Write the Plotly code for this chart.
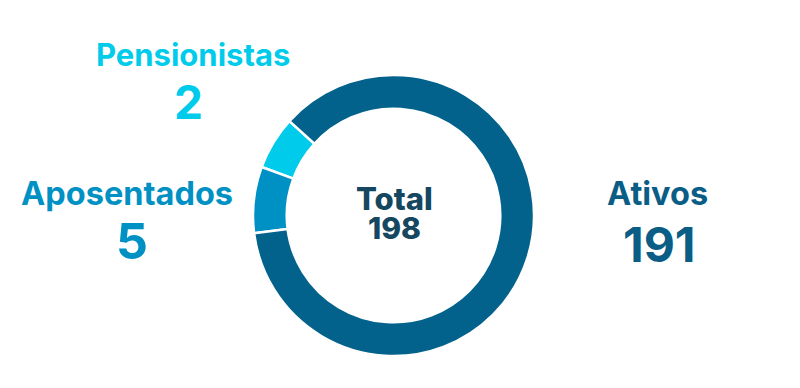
import plotly.graph_objects as go

# Data
categories = ["Pensionistas", "Aposentados", "Ativos"]
counts = [2, 5, 191]
total = 198
# Arc sizes as drawn in the reference (slices are not proportional to counts)
arc_sizes = [22, 27.5, 310.5]
colors = ["#00CBEA", "#0091C4", "#03628C"]
label_colors = ["#00CBEA", "#0091C4", "#0A5E86"]

W, H = 800, 388
FONT = "Inter"

fig = go.Figure()
fig.add_trace(go.Pie(
    labels=categories,
    values=arc_sizes,
    customdata=counts,
    hole=0.76,
    sort=False,
    direction="counterclockwise",
    rotation=-69.8,
    textinfo="none",
    hoverinfo="label",
    marker=dict(colors=colors, line=dict(color="white", width=2.5)),
    domain=dict(x=[253 / W, 534 / W], y=[1 - 356 / H, 1 - 75 / H]),
    showlegend=False,
))

def px(x, y):
    return x / W, 1 - y / H

# label positions (center x, center y in pixels), label size, number size
label_pos = {
    "Pensionistas": ((192.5, 55), (188, 102), 31, 46),
    "Aposentados": ((127, 193.5), (132, 241), 32.5, 50),
    "Ativos": ((657, 193.5), (659, 244), 32.5, 48),
}

annotations = []
for cat, cnt, col in zip(categories, counts, label_colors):
    (lx, ly), (nx, ny), lsize, nsize = label_pos[cat]
    x, y = px(lx, ly)
    annotations.append(dict(x=x, y=y, xref="paper", yref="paper", text=cat,
                            showarrow=False, xanchor="center", yanchor="middle",
                            font=dict(family=FONT, size=lsize, color=col, weight=700)))
    x, y = px(nx, ny)
    annotations.append(dict(x=x, y=y, xref="paper", yref="paper", text=str(cnt),
                            showarrow=False, xanchor="center", yanchor="middle",
                            font=dict(family=FONT, size=nsize, color=col, weight=700)))

x, y = px(394, 199)
annotations.append(dict(x=x, y=y, xref="paper", yref="paper", text="Total",
                        showarrow=False, xanchor="center", yanchor="middle",
                        font=dict(family=FONT, size=31, color="#154760", weight=800)))
x, y = px(394, 228)
annotations.append(dict(x=x, y=y, xref="paper", yref="paper", text=str(total),
                        showarrow=False, xanchor="center", yanchor="middle",
                        font=dict(family=FONT, size=30, color="#154760", weight=800)))

fig.update_layout(
    width=W, height=H,
    margin=dict(l=0, r=0, t=0, b=0),
    paper_bgcolor="white", plot_bgcolor="white",
    annotations=annotations,
)

fig.write_html("out.html")
